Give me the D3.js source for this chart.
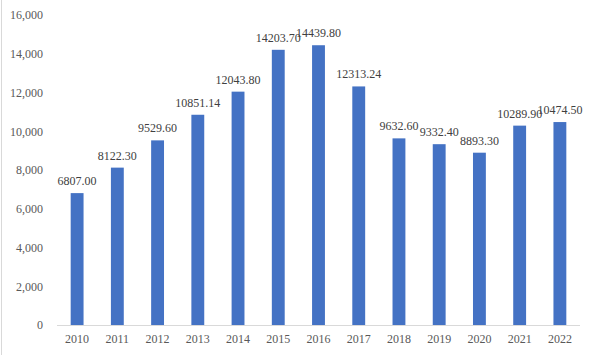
<!DOCTYPE html>
<html><head><meta charset="utf-8">
<script src="https://cdn.jsdelivr.net/npm/d3@7"></script>
<style>body{margin:0;background:#fff}svg{display:block}</style>
</head><body>
<script>
const years = ["2010","2011","2012","2013","2014","2015","2016","2017","2018","2019","2020","2021","2022"];
const values = [6807.00, 8122.30, 9529.60, 10851.14, 12043.80, 14203.70, 14439.80, 12313.24, 9632.60, 9332.40, 8893.30, 10289.90, 10474.50];
const labels = ["6807.00","8122.30","9529.60","10851.14","12043.80","14203.70","14439.80","12313.24","9632.60","9332.40","8893.30","10289.90","10474.50"];
const yTicks = [0,2000,4000,6000,8000,10000,12000,14000,16000];

const W = 591, H = 355;
const svg = d3.select("body").append("svg").attr("width", W).attr("height", H);
svg.append("line").attr("x1",1.5).attr("x2",1.5).attr("y1",0).attr("y2",H).attr("stroke","#d9d9d9");

const x = d3.scaleBand().domain(years).range([57, 580]).paddingInner(0.68).paddingOuter(0.34);
const y = d3.scaleLinear().domain([0,16000]).range([325, 15]);
const font = "'Liberation Serif','Times New Roman',serif";

svg.selectAll("rect.bar").data(values).enter().append("rect")
  .attr("x",(d,i)=>x(years[i])).attr("width",x.bandwidth())
  .attr("y",d=>y(d)).attr("height",d=>y(0)-y(d)).attr("fill","#4472C4");

const ya = svg.append("g").attr("transform","translate(57,0)")
  .call(d3.axisLeft(y).tickValues(yTicks).tickSize(0).tickPadding(14).tickFormat(d3.format(",")));
ya.select(".domain").remove();
ya.selectAll("text").attr("font-family",font).attr("font-size",12).attr("fill","#595959");

const xa = svg.append("g").attr("transform","translate(0,325)")
  .call(d3.axisBottom(x).tickSize(0).tickPadding(9));
xa.select(".domain").attr("stroke","#d9d9d9").attr("d","M57,0.5H580");
xa.selectAll("text").attr("font-family",font).attr("font-size",12).attr("fill","#595959");

svg.selectAll("text.val").data(values).enter().append("text")
  .attr("x",(d,i)=>x(years[i])+x.bandwidth()/2).attr("y",d=>y(d)-8)
  .attr("text-anchor","middle").attr("font-family",font).attr("font-size",12).attr("fill","#404040")
  .text((d,i)=>labels[i]);
</script>
</body></html>
